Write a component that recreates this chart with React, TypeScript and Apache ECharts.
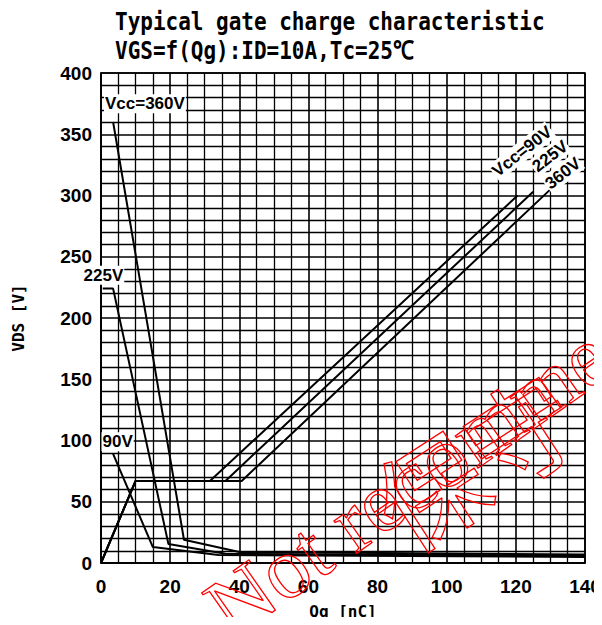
import React, { useEffect, useRef } from "react";
import * as echarts from "echarts";

// ---- Data (Qg [nC], value) ----
// Drain-source voltage curves (left axis, VDS [V])
const vds360: number[][] = [[3.5, 360], [24, 19], [40, 9], [140, 7]];
const vds225: number[][] = [[0.5, 224], [3.5, 224], [19.5, 15.5], [36, 7.5], [140, 6]];
const vds90: number[][] = [[3.5, 89], [15, 13], [34, 6.5], [140, 5]];

// Gate-source voltage curves (right axis, VGS [V])
const vgs90: number[][] = [[0, 0], [10, 6.7], [31.5, 6.7], [120.5, 30]];
const vgs225: number[][] = [[0, 0], [10, 6.7], [36, 6.7], [125, 30.3]];
const vgs360: number[][] = [[0, 0], [10, 6.7], [40.7, 6.7], [130, 30.5]];

// Axis ranges / tick steps
const qRange = [0, 140];
const qStep = 20;
const vdsRange = [0, 400];
const vdsStep = 50;
const vgsRange = [0, 40];
const vgsStep = 5;

// Curve annotations [Qg, VDS, text, rotation deg]
const curveLabels: [number, number, string, number][] = [
  [12.7, 375, "Vcc=360V", 0],
  [0.7, 235, "225V", 0],
  [4.8, 99, "90V", 0],
  [121.8, 336, "Vcc=90V", 38],
  [129.9, 332, "225V", 38],
  [133.6, 318, "360V", 38],
];

const titleLines = ["Typical gate charge characteristic", "VGS=f(Qg):ID=10A,Tc=25\u2103"];
const xName = "Qg [nC]";
const yName = "VDS [V]";

const SANS = "'Liberation Sans', Arial, sans-serif";
const MONO = "'DejaVu Sans Mono', monospace";

export default function App() {
  const ref = useRef<HTMLDivElement>(null);
  useEffect(() => {
    if (!ref.current) return;
    const chart = echarts.init(ref.current, undefined, { renderer: "svg" });
    const lineSeries = (data: number[][], yAxisIndex: number) => ({
      type: "line",
      data,
      yAxisIndex,
      symbol: "none",
      lineStyle: { color: "#000", width: 2 },
      z: 3,
    });
    const axisLabel = {
      fontFamily: SANS,
      fontWeight: "bold",
      fontSize: 19,
      color: "#000",
    };
    chart.setOption({
      animation: false,
      backgroundColor: "#fff",
      grid: {
        left: 101,
        right: 17,
        top: 73,
        bottom: 62,
        show: true,
        borderColor: "#000",
        borderWidth: 1.6,
        containLabel: false,
        outerBoundsMode: "none",
      },
      xAxis: {
        type: "value",
        min: qRange[0],
        max: qRange[1],
        interval: qStep,
        axisLine: { show: true, lineStyle: { color: "#000", width: 1.6 } },
        axisTick: { show: false },
        axisLabel: { ...axisLabel, margin: 14 },
        splitLine: { show: true, lineStyle: { color: "#000", width: 1.6 } },
        minorTick: { show: false, splitNumber: 4 },
        minorSplitLine: { show: true, lineStyle: { color: "#000", width: 1.3 } },
        name: xName,
        nameLocation: "middle",
        nameGap: 40,
        nameTextStyle: { fontFamily: MONO, fontWeight: "bold", fontSize: 16, color: "#000" },
      },
      yAxis: [
        {
          type: "value",
          min: vdsRange[0],
          max: vdsRange[1],
          interval: vdsStep,
          axisLine: { show: true, lineStyle: { color: "#000", width: 1.6 } },
          axisTick: { show: false },
          axisLabel: { ...axisLabel, margin: 9, padding: [10, 0, 0, 0] },
          splitLine: { show: true, lineStyle: { color: "#000", width: 1.6 } },
          minorTick: { show: false, splitNumber: 5 },
          minorSplitLine: { show: true, lineStyle: { color: "#000", width: 1.3 } },
          name: yName,
          nameLocation: "middle",
          nameRotate: 90,
          nameGap: 75,
          nameTextStyle: { fontFamily: MONO, fontWeight: "bold", fontSize: 16, color: "#000" },
        },
        {
          type: "value",
          position: "right",
          min: vgsRange[0],
          max: vgsRange[1],
          interval: vgsStep,
          axisLine: { show: false },
          axisTick: { show: false },
          axisLabel: { ...axisLabel, margin: 9, padding: [10, 0, 0, 0] },
          splitLine: { show: false },
        },
      ],
      series: [
        lineSeries(vds360, 0),
        lineSeries(vds225, 0),
        lineSeries(vds90, 0),
        lineSeries(vgs90, 1),
        lineSeries(vgs225, 1),
        lineSeries(vgs360, 1),
        {
          type: "scatter",
          yAxisIndex: 0,
          symbolSize: 0,
          itemStyle: { opacity: 1 },
          z: 5,
          data: curveLabels.map(([q, v, t, r]) => ({
            value: [q, v],
            label: {
              show: true,
              position: "inside",
              formatter: t,
              rotate: r,
              fontFamily: SANS,
              fontWeight: "bold",
              fontSize: 17,
              color: "#000",
              opacity: 1,
              textBorderWidth: 0,
              backgroundColor: "#fff",
              padding: [1, 1],
            },
          })),
        },
      ],
      graphic: [
        {
          type: "text",
          x: 115,
          y: 21,
          scaleY: 1.22,
          z: 10,
          style: {
            text: titleLines[0],
            font: `bold 21px ${MONO}`,
            fill: "#000",
            align: "left",
            verticalAlign: "middle",
          },
        },
        {
          type: "text",
          x: 115,
          y: 50,
          scaleY: 1.22,
          z: 10,
          style: {
            text: titleLines[1],
            font: `bold 21px ${MONO}`,
            fill: "#000",
            align: "left",
            verticalAlign: "middle",
          },
        },
        {
          type: "text",
          x: 240,
          y: 652,
          rotation: (35 * Math.PI) / 180,
          z: 20,
          style: {
            text: "Not recommended for new design",
            fontFamily: "'Liberation Serif', serif",
            fontSize: 86,
            fill: "none",
            stroke: "#ff0000",
            lineWidth: 1.3,
            align: "left",
            verticalAlign: "bottom",
          },
        },
        {
          type: "text",
          x: 412,
          y: 562,
          rotation: (33 * Math.PI) / 180,
          z: 20,
          style: {
            text: "\u4fdd\u5b88",
            fontFamily: "'Noto Sans CJK JP', sans-serif",
            fontSize: 108,
            fill: "none",
            stroke: "#ff0000",
            lineWidth: 1.3,
            align: "left",
            verticalAlign: "bottom",
          },
        },
      ],
    });
    return () => chart.dispose();
  }, []);
  return <div ref={ref} style={{ width: 602, height: 625, margin: -8 }} />;
}
